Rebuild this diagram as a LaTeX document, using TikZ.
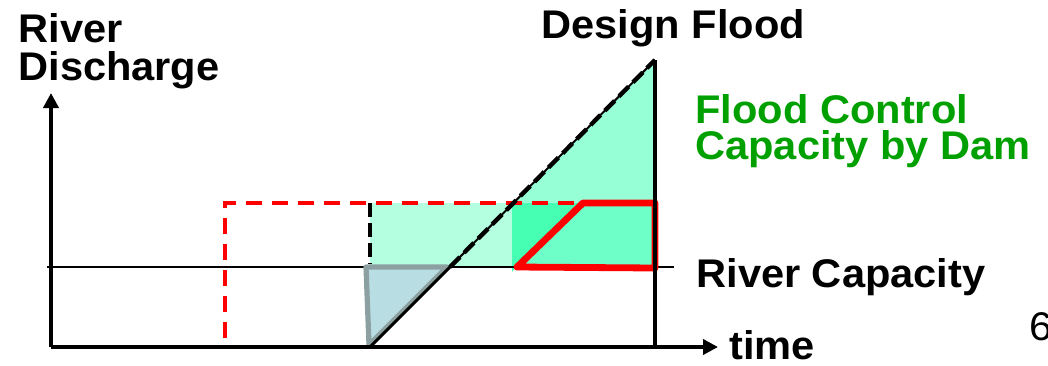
\documentclass[tikz,border=0pt]{standalone}
\usepackage{fontspec}
\setmainfont{Liberation Sans}[FakeStretch=1.04]
\usetikzlibrary{arrows.meta}
\definecolor{dgreen}{RGB}{0,160,0}
\definecolor{lightmint}{RGB}{179,255,224}
\definecolor{midmint}{RGB}{150,255,214}
\definecolor{darkmint}{RGB}{70,255,178}
\definecolor{polymint}{RGB}{110,255,200}
\definecolor{tribg}{RGB}{184,221,226}
\definecolor{trigray}{RGB}{140,160,162}
\definecolor{redline}{RGB}{255,0,0}
\tikzset{
  lbl/.style={font=\fontsize{20}{18}\selectfont\bfseries, inner sep=0pt, anchor=base west},
  axis/.style={line width=2pt, -{Triangle[length=7.5pt,width=7.5pt]}},
  capline/.style={line width=0.7pt},
  reddash/.style={draw=redline, line width=2pt, dash pattern=on 8pt off 5pt},
  blackdash/.style={draw=black, line width=2.2pt, dash pattern=on 7pt off 3pt},
}
\begin{document}
\begin{tikzpicture}[x=0.5pt,y=-0.5pt]
\useasboundingbox (0,0) rectangle (1048,365);
% coordinates
\coordinate (O) at (51,347);
\coordinate (ytip) at (51,93);
\coordinate (xtip) at (718,347);
\coordinate (capL) at (47,267);
\coordinate (capR) at (674,267);
\coordinate (t0) at (370,347);
\coordinate (t1) at (450,267);
\coordinate (t2) at (514,203);
\coordinate (peak) at (655,60);
\coordinate (rb) at (655,347);
% fills
\fill[lightmint] (370,203) rectangle (514,267);
\fill[midmint] (t2) -- (peak) -- (655,203) -- cycle;
\fill[darkmint] (512,203) rectangle (655,267);
\fill[darkmint] (512,267) -- (516,267) -- (512,272) -- cycle;
% river capacity line
\draw[capline] (capL) -- (capR);
% red polygon
\filldraw[fill=polymint, draw=redline, line width=3.4pt, line join=round]
  (517,267) -- (583,203) -- (655,203) -- (655,268) -- cycle;
% gray triangle
\filldraw[fill=tribg, draw=trigray, line width=2.6pt, line join=round]
  (366,267) -- (447,267) -- (369,345) -- cycle;
% red dashed
\draw[reddash] (225,338) -- (225,203) -- (583,203);
% black dashed vertical
\draw[blackdash] (370,203) -- (370,264);
% diagonal
\draw[line width=1.5pt] (t0) -- (t1);
\draw[line width=1pt] (t1) -- (peak);
\draw[blackdash] (t1) -- (peak);
% right vertical
\draw[line width=2pt] (peak) -- (rb);
% axes
\draw[axis] (O) -- (ytip);
\draw[axis] (O) -- (xtip);
% labels
\node[lbl] (river) at (18,42) {River};
\node[lbl] (disch) at (18,80) {Discharge};
\node[lbl] (design) at (541,38) {Design Flood};
\node[lbl, text=dgreen, align=left, anchor=north west] (fcc) at (695,94) {Flood Control\\Capacity by Dam};
\node[lbl] (rcap) at (696,287) {River Capacity};
\node[lbl] (time) at (729,359) {time};
\node[font=\fontsize{20}{22}\selectfont, inner sep=0pt, anchor=base west] (pg) at (1029,340) {6};
\end{tikzpicture}
\end{document}
